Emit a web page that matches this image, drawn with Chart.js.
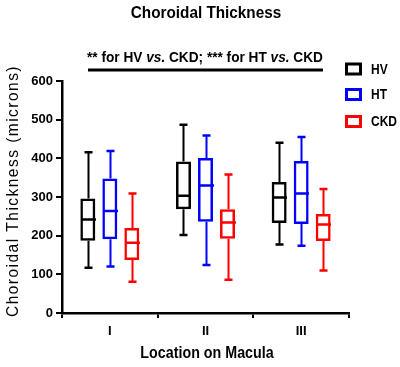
<!DOCTYPE html>
<html>
<head>
<meta charset="utf-8">
<script src="https://cdn.jsdelivr.net/npm/chart.js@4/dist/chart.umd.min.js"></script>
<style>
  html, body { margin: 0; padding: 0; background: #fff; }
  canvas { display: block; }
</style>
</head>
<body>
<canvas id="thicknessChart" width="400" height="367"></canvas>
<script>
const FONT = "'Liberation Sans', Arial, sans-serif";

const locations = ['I', 'II', 'III'];
const yTicks = [0, 100, 200, 300, 400, 500, 600];

// box plot stats per location (microns)
const hvMin = [117, 202, 177];
const hvQ1 = [187, 268, 233];
const hvMedian = [242, 303, 299];
const hvQ3 = [296, 392, 339];
const hvMax = [416, 487, 440];

const htMin = [120, 124, 174];
const htQ1 = [191, 236, 230];
const htMedian = [264, 330, 309];
const htQ3 = [348, 401, 393];
const htMax = [419, 459, 455];

const ckdMin = [81, 86, 110];
const ckdQ1 = [137, 192, 186];
const ckdMedian = [182, 234, 229];
const ckdQ3 = [220, 268, 256];
const ckdMax = [309, 358, 321];

function boxDataset(label, color, min, q1, median, q3, max) {
    return {
        label: label,
        data: q1.map((v, i) => [v, q3[i]]),
        stats: { min: min, median: median, max: max },
        backgroundColor: 'rgba(255,255,255,0)',
        borderColor: color,
        borderWidth: 2.5,
        borderSkipped: false,
    };
}

// draws text squeezed sideways, the original uses a narrow face
function narrowText(ctx, parts, cx, cy, scaleX) {
    let total = 0;
    parts.forEach(p => { ctx.font = p[1]; total += ctx.measureText(p[0]).width; });
    ctx.save();
    ctx.translate(cx, cy);
    ctx.scale(scaleX, 1);
    ctx.textAlign = 'left';
    ctx.textBaseline = 'middle';
    let x = -total / 2;
    parts.forEach(p => {
        ctx.font = p[1];
        ctx.fillText(p[0], x, 0);
        x += ctx.measureText(p[0]).width;
    });
    ctx.restore();
}

// whiskers, caps and median lines drawn on top of the floating bars
const whiskers = {
    id: 'whiskers',
    afterDatasetsDraw(chart) {
        const ctx = chart.ctx;
        const y = chart.scales.y;
        chart.data.datasets.forEach((ds, di) => {
            const meta = chart.getDatasetMeta(di);
            meta.data.forEach((bar, i) => {
                const x = Math.round(bar.x) + 0.5;
                const half = bar.width / 2;
                const [q1, q3] = ds.data[i];
                const yMin = y.getPixelForValue(ds.stats.min[i]);
                const yMax = y.getPixelForValue(ds.stats.max[i]);
                const yMed = y.getPixelForValue(ds.stats.median[i]);
                ctx.save();
                ctx.strokeStyle = ds.borderColor;
                ctx.lineWidth = 2;
                ctx.beginPath();
                ctx.moveTo(x, yMax);
                ctx.lineTo(x, y.getPixelForValue(q3));
                ctx.moveTo(x, y.getPixelForValue(q1));
                ctx.lineTo(x, yMin);
                ctx.stroke();
                ctx.lineWidth = 2.5;
                ctx.beginPath();
                ctx.moveTo(x - 4, yMax);
                ctx.lineTo(x + 4, yMax);
                ctx.moveTo(x - 4, yMin);
                ctx.lineTo(x + 4, yMin);
                ctx.moveTo(x - half, yMed);
                ctx.lineTo(x + half, yMed);
                ctx.stroke();
                ctx.restore();
            });
        });
    },
};

// title, significance bar, legend and axis titles
const decorations = {
    id: 'decorations',
    afterDraw(chart) {
        const ctx = chart.ctx;
        ctx.save();
        ctx.fillStyle = '#000';

        narrowText(ctx, [['Choroidal Thickness', 'bold 17px ' + FONT]], 206, 13.5, 0.9);

        const b = 'bold 15px ' + FONT;
        const it = 'italic bold 15px ' + FONT;
        narrowText(ctx, [
            ['** for HV ', b], ['vs.', it], [' CKD; *** for HT ', b], ['vs.', it], [' CKD', b],
        ], 205, 58, 0.91);

        ctx.lineWidth = 3;
        ctx.beginPath();
        ctx.moveTo(88, 70);
        ctx.lineTo(323, 70);
        ctx.stroke();

        // legend
        const legendY = [69, 94.5, 121.5];
        chart.data.datasets.forEach((ds, i) => {
            ctx.strokeStyle = ds.borderColor;
            ctx.lineWidth = 3;
            ctx.strokeRect(346.5, legendY[i] - 5, 14, 10);
            ctx.fillStyle = '#000';
            ctx.font = 'bold 15px ' + FONT;
            const w = ctx.measureText(ds.label).width * 0.8;
            narrowText(ctx, [[ds.label, 'bold 15px ' + FONT]], 371 + w / 2, legendY[i] + 0.5, 0.8);
        });

        // x axis title
        narrowText(ctx, [['Location on Macula', 'bold 17px ' + FONT]], 207, 353.5, 0.84);

        // y axis title
        ctx.translate(13, 191);
        ctx.rotate(-Math.PI / 2);
        ctx.font = '17px ' + FONT;
        ctx.letterSpacing = '1.6px';
        ctx.textAlign = 'center';
        ctx.textBaseline = 'middle';
        const t = 'Choroidal Thickness (microns)';
        const tw = ctx.measureText(t).width;
        ctx.scale(252 / tw, 1);
        ctx.fillText(t, 0, 0);
        ctx.restore();
    },
};

new Chart(document.getElementById('thicknessChart'), {
    type: 'bar',
    data: {
        labels: locations,
        datasets: [
            boxDataset('HV', '#000000', hvMin, hvQ1, hvMedian, hvQ3, hvMax),
            boxDataset('HT', '#0000ff', htMin, htQ1, htMedian, htQ3, htMax),
            boxDataset('CKD', '#ff0000', ckdMin, ckdQ1, ckdMedian, ckdQ3, ckdMax),
        ],
    },
    options: {
        responsive: false,
        animation: false,
        devicePixelRatio: 1,
        layout: { padding: { top: 81, right: 51, left: 0, bottom: 0 } },
        datasets: { bar: { categoryPercentage: 0.69, barPercentage: 0.68 } },
        plugins: {
            legend: { display: false },
            tooltip: { enabled: false },
        },
        scales: {
            x: {
                afterFit: s => { s.height = 54; },
                grid: { drawOnChartArea: false, drawTicks: true, tickLength: 5, color: '#000', lineWidth: 2 },
                border: { color: '#000', width: 2.5 },
                ticks: { color: '#000', padding: 6, font: { family: FONT, size: 13, weight: 'bold' } },
            },
            y: {
                min: 0,
                max: 600,
                afterFit: s => { s.width = 62; },
                afterBuildTicks: s => { s.ticks = yTicks.map(v => ({ value: v })); },
                grid: { drawOnChartArea: false, drawTicks: true, tickLength: 6, color: '#000', lineWidth: 2 },
                border: { color: '#000', width: 2.5 },
                ticks: { color: '#000', padding: 3, font: { family: FONT, size: 13, weight: 'bold' } },
            },
        },
    },
    plugins: [whiskers, decorations],
});
</script>
</body>
</html>
